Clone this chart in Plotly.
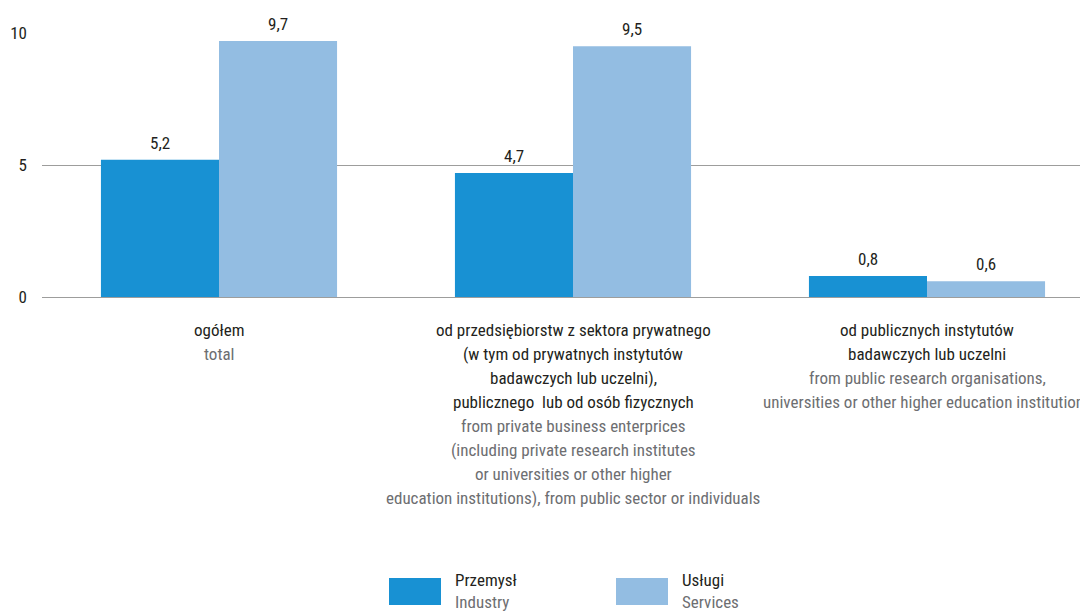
import plotly.graph_objects as go

categories = ["ogółem", "od przedsiębiorstw", "od publicznych"]
industry = [5.2, 4.7, 0.8]
services = [9.7, 9.5, 0.6]
series_names = ["Przemysł", "Usługi"]
series_names_en = ["Industry", "Services"]
label_pl = [
    ["ogółem"],
    ["od przedsiębiorstw z sektora prywatnego", "(w tym od prywatnych instytutów",
     "badawczych lub uczelni),", "publicznego  lub od osób fizycznych"],
    ["od publicznych instytutów", "badawczych lub uczelni"],
]
label_en = [
    ["total"],
    ["from private business enterprices", "(including private research institutes",
     "or universities or other higher", "education institutions), from public sector or individuals"],
    ["from public research organisations,", "universities or other higher education institutions"],
]
yticks = [0, 5, 10]

FONT = "Liberation Sans Narrow, Roboto Condensed, Arial Narrow, Roboto, sans-serif"
DARK = "#231f20"
GRAY = "#6d6e71"
C1 = "#1891d3"
C2 = "#93bde2"
FS = 17

OFF = 8  # page body margin
W, H = 1088, 612
L, T = 42 - OFF, 33 - OFF
R = 0
BOTTOM_Y = 297 - OFF
B = H - BOTTOM_Y
PW = W - L - R
PH = H - T - B
CAT_W = 354.0
BAR_W = CAT_W * 0.667 / 2

xs = list(range(len(categories)))
fig = go.Figure()
fig.add_trace(go.Bar(x=xs, y=industry, name=series_names[0], marker=dict(color=C1, line=dict(width=0))))
fig.add_trace(go.Bar(x=xs, y=services, name=series_names[1], marker=dict(color=C2, line=dict(width=0))))

annotations = []
# value labels
for sign, vals in ((-1, industry), (1, services)):
    for i, v in zip(xs, vals):
        annotations.append(dict(x=i, y=v, xref="x", yref="y", xanchor="center", yanchor="bottom",
                                xshift=sign * BAR_W / 2, yshift=5, text=f"{v:.1f}".replace(".", ","),
                                showarrow=False, font=dict(family=FONT, size=FS, color=DARK)))

# category labels
for i in xs:
    lines = [(t, DARK) for t in label_pl[i]] + [(t, GRAY) for t in label_en[i]]
    for k, (t, col) in enumerate(lines):
        annotations.append(dict(x=i, xref="x", y=0, yref="paper", yanchor="middle", xanchor="center",
                                yshift=-(33 + 24 * k), text=t, showarrow=False,
                                font=dict(family=FONT, size=FS, color=col)))

# custom legend (page pixel coords -> paper)
def px2x(p):
    return (p - OFF - L) / PW

def py2y(p):
    return (BOTTOM_Y - (p - OFF)) / PH

shapes = []
leg_x = [389, 616]
for j, col in enumerate([C1, C2]):
    shapes.append(dict(type="rect", xref="paper", yref="paper", x0=px2x(leg_x[j]), x1=px2x(leg_x[j] + 52),
                       y0=py2y(605), y1=py2y(578), fillcolor=col, line=dict(width=0)))
    annotations.append(dict(x=px2x(leg_x[j] + 64), y=py2y(580), xref="paper", yref="paper", xanchor="left",
                            yanchor="middle", text=series_names[j], showarrow=False,
                            font=dict(family=FONT, size=FS, color=DARK)))
    annotations.append(dict(x=px2x(leg_x[j] + 64), y=py2y(602), xref="paper", yref="paper", xanchor="left",
                            yanchor="middle", text=series_names_en[j], showarrow=False,
                            font=dict(family=FONT, size=FS, color=GRAY)))

span = PW / CAT_W
fig.update_layout(
    width=W, height=H, margin=dict(l=L, r=R, t=T, b=B, pad=0),
    paper_bgcolor="white", plot_bgcolor="white",
    barmode="group", bargap=0.333, bargroupgap=0,
    showlegend=False,
    font=dict(family=FONT, size=FS, color=DARK),
    xaxis=dict(range=[-0.5, -0.5 + span], showticklabels=False, showgrid=False, zeroline=False,
               showline=False, ticks=""),
    yaxis=dict(range=[0, 10], tickvals=yticks, ticktext=[str(v) for v in yticks], showgrid=True,
               gridcolor="#9d9d9c", gridwidth=1, zeroline=True, zerolinecolor="#9d9d9c", zerolinewidth=1,
               showline=False, ticks="", ticklabelstandoff=14,
               tickfont=dict(family=FONT, size=FS, color=DARK)),
    annotations=annotations, shapes=shapes,
)
fig.write_html("out.html")
